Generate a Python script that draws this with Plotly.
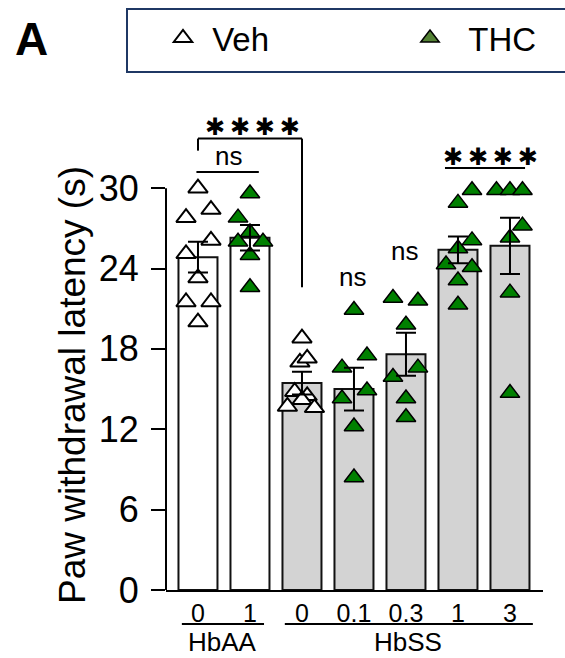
import plotly.graph_objects as go

# ---------------- data ----------------
genotypes = ["HbAA", "HbAA", "HbSS", "HbSS", "HbSS", "HbSS", "HbSS"]
doses = ["0", "1", "0", "0.1", "0.3", "1", "3"]
treatments = ["Veh", "THC", "Veh", "THC", "THC", "THC", "THC"]
means = [24.85, 26.3, 15.45, 15.0, 17.6, 25.4, 25.7]
sems = [1.15, 0.95, 0.85, 1.6, 1.6, 1.0, 2.1]

pts_aa_veh = [30.0, 27.8, 28.4, 26.1, 25.1, 23.3, 21.5, 21.5, 20.0]
pts_aa_thc1 = [29.6, 27.8, 26.7, 26.0, 26.0, 25.0, 22.6]
pts_ss_veh = [18.8, 17.0, 17.3, 14.8, 14.5, 14.2, 13.7, 13.6]
pts_ss_thc01 = [20.9, 17.5, 16.6, 14.9, 14.3, 12.2, 8.4]
pts_ss_thc03 = [21.8, 21.6, 19.8, 15.9, 16.6, 14.3, 12.9]
pts_ss_thc1 = [29.85, 28.9, 26.1, 25.5, 24.3, 24.1, 23.1, 21.3]
pts_ss_thc3 = [29.85, 29.85, 29.85, 27.2, 26.3, 22.2, 14.7]
points = [pts_aa_veh, pts_aa_thc1, pts_ss_veh, pts_ss_thc01,
          pts_ss_thc03, pts_ss_thc1, pts_ss_thc3]

# horizontal scatter of the points inside each bar (category units)
jitter = [
    [0, -0.23, 0.25, 0.25, -0.23, 0, -0.23, 0.25, 0],
    [0, -0.23, 0, -0.23, 0.25, 0, 0],
    [0, -0.04, 0.1, -0.14, 0.1, 0, -0.28, 0.24],
    [0, 0.25, -0.23, 0.25, -0.23, 0, 0],
    [-0.25, 0.23, 0, -0.25, 0.23, 0, 0],
    [0.27, 0, 0.27, 0, -0.23, 0.27, 0, 0],
    [-0.26, 0, 0.24, 0.24, 0, 0, 0],
]

ytick_vals = [0, 6, 12, 18, 24, 30]

FONT = "Liberation Sans, Arial, sans-serif"
GREEN = "#008000"
LEG_GREEN = "#548235"
GRAY = "#d3d3d3"
NB = "\u00a0"

xpos = list(range(len(doses)))
bar_colors = ["white" if g == "HbAA" else GRAY for g in genotypes]

fig = go.Figure()

fig.add_trace(go.Bar(
    x=xpos, y=means, width=0.75,
    marker=dict(color=bar_colors, line=dict(color="#111111", width=2)),
    showlegend=False, hoverinfo="skip",
))

for i, (vals, offs) in enumerate(zip(points, jitter)):
    veh = treatments[i] == "Veh"
    fig.add_trace(go.Scatter(
        x=[i + o for o in offs], y=vals, mode="markers",
        marker=dict(symbol="triangle-up", size=17,
                    color="white" if veh else GREEN,
                    line=dict(color="black", width=2 if veh else 1.5)),
        cliponaxis=False, showlegend=False,
    ))

# error bars (mean +/- SEM), drawn on top of the points
fig.add_trace(go.Scatter(
    x=xpos, y=means, mode="markers",
    marker=dict(size=1, opacity=0),
    error_y=dict(type="data", array=sems, visible=True,
                 color="black", thickness=2, width=10),
    showlegend=False, hoverinfo="skip",
))

# legend entries
fig.add_trace(go.Scatter(
    x=[None], y=[None], mode="markers", name=NB + "Veh", legend="legend",
    marker=dict(symbol="triangle-up", size=16, color="white",
                line=dict(color="black", width=2)),
))
fig.add_trace(go.Scatter(
    x=[None], y=[None], mode="markers", name=NB + NB + "THC", legend="legend2",
    marker=dict(symbol="triangle-up", size=16, color=LEG_GREEN,
                line=dict(color="black", width=1.5)),
))

shapes = [
    # y axis line (0..30)
    dict(type="line", xref="x domain", yref="y", x0=0, x1=0, y0=0, y1=30,
         line=dict(color="black", width=2)),
    # big bracket HbAA veh vs HbSS veh
    dict(type="line", xref="x", yref="y", x0=0, x1=0, y0=32.8, y1=33.7,
         line=dict(color="black", width=2)),
    dict(type="line", xref="x", yref="y", x0=0, x1=2, y0=33.7, y1=33.7,
         line=dict(color="black", width=2)),
    dict(type="line", xref="x", yref="y", x0=2, x1=2, y0=33.7, y1=22.6,
         line=dict(color="black", width=2)),
    # ns line between HbAA bars
    dict(type="line", xref="x", yref="y", x0=-0.03, x1=1.17, y0=31.2, y1=31.2,
         line=dict(color="black", width=2)),
    # line over HbSS 1 and 3
    dict(type="line", xref="x", yref="y", x0=4.75, x1=6.29, y0=31.5, y1=31.5,
         line=dict(color="black", width=2)),
    # group lines under tick labels
    dict(type="line", xref="x", yref="paper", x0=-0.31, x1=1.27,
         y0=1 - 624 / 658, y1=1 - 624 / 658, line=dict(color="black", width=2)),
    dict(type="line", xref="x", yref="paper", x0=1.67, x1=6.44,
         y0=1 - 624 / 658, y1=1 - 624 / 658, line=dict(color="black", width=2)),
    # legend box
    dict(type="rect", xref="paper", yref="paper", x0=127 / 565, x1=1.05,
         y0=1 - 72 / 658, y1=1 - 9 / 658,
         line=dict(color="#1F3864", width=2), fillcolor="rgba(0,0,0,0)"),
]

STARS = "✱\u2009✱\u2009✱\u2009✱"


def ann(text, x, y, size, xref="x", yref="y", family=FONT, **kw):
    return dict(text=text, xref=xref, yref=yref, x=x, y=y, showarrow=False,
                xanchor="center", yanchor="middle",
                font=dict(family=family, size=size, color="black"), **kw)


annotations = [
    ann("<b>A</b>", 31 / 565, 1 - 39 / 658, 46, xref="paper", yref="paper"),
    ann("Paw withdrawal latency (s)", 72 / 565, 1 - 385 / 658, 37,
        xref="paper", yref="paper", textangle=-90),
    ann(STARS, 1.04, 34.6, 24, family="DejaVu Sans"),
    ann(STARS, 5.62, 32.35, 24, family="DejaVu Sans"),
    ann("ns", 0.58, 32.4, 26),
    ann("ns", 2.98, 23.4, 26),
    ann("ns", 3.98, 25.3, 26),
    ann("HbAA", 0.48, 1 - 642 / 658, 26, yref="paper"),
    ann("HbSS", 4.04, 1 - 642 / 658, 26, yref="paper"),
]

fig.update_layout(
    width=565, height=658,
    margin=dict(l=0, r=0, t=0, b=0, autoexpand=False),
    paper_bgcolor="white", plot_bgcolor="white",
    font=dict(family=FONT, color="black"),
    bargap=0.25,
    xaxis=dict(range=[-0.615, 6.635], domain=[166 / 565, 543 / 565],
               tickmode="array", tickvals=xpos, ticktext=doses,
               tickfont=dict(size=25), ticks="", showline=True,
               linecolor="black", linewidth=2, showgrid=False, zeroline=False,
               automargin=False, fixedrange=True),
    yaxis=dict(range=[0, 38], domain=[1 - 590 / 658, 1 - 81 / 658],
               tickmode="array", tickvals=ytick_vals,
               tickfont=dict(size=36), ticks="outside", ticklen=14,
               tickwidth=2, tickcolor="black", showline=False,
               showgrid=False, zeroline=False, ticklabelstandoff=5,
               automargin=False, fixedrange=True),
    legend=dict(x=163 / 565, y=1 - 38 / 658, xanchor="left", yanchor="middle",
                orientation="h", font=dict(family=FONT, size=33),
                bgcolor="rgba(0,0,0,0)", borderwidth=0),
    legend2=dict(x=410 / 565, y=1 - 38 / 658, xanchor="left", yanchor="middle",
                 orientation="h", font=dict(family=FONT, size=33),
                 bgcolor="rgba(0,0,0,0)", borderwidth=0),
    shapes=shapes,
    annotations=annotations,
)

fig.write_html("out.html")
